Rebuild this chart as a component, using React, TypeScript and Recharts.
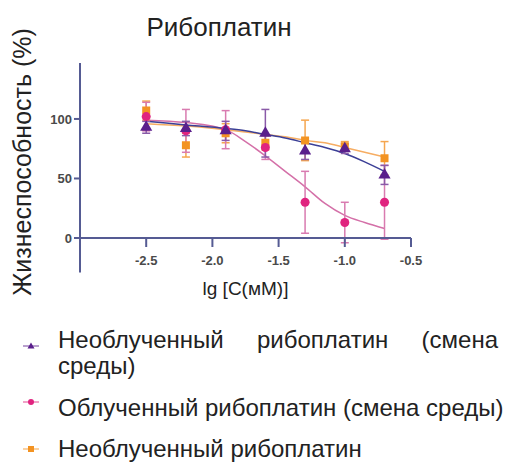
import * as React from "react";
import {
  ComposedChart,
  Line,
  Scatter,
  ErrorBar,
  XAxis,
  YAxis,
  ReferenceLine,
} from "recharts";

// lg concentration, measured points
const doses = [-2.5, -2.2, -1.9, -1.6, -1.3, -1.0, -0.7];
const unirrMedium = [93, 92, 90, 88, 73, 75, 53];
const unirrMediumErr = [5, 6, 8, 20, 7, 4, 8];
const irrMedium = [102, 90, 91, 76, 30, 13, 30];
const irrMediumErr = [12, 18, 16, 10, 26, 17, 31];
const unirr = [107, 78, 88, 80, 82, 77, 67];
const unirrErr = [8, 10, 8, 6, 17, 4, 14];

// fitted curves
const fitX = [-2.5, -2.2, -1.9, -1.75, -1.6, -1.45, -1.3, -1.15, -1.0, -0.85, -0.7];
const unirrMediumFit = [98, 95, 92, 90, 87, 84, 80, 76, 71, 64, 56];
const irrMediumFit = [99, 97, 91, 81, 69, 56, 43, 29, 19, 13, 8];
const unirrFit = [96, 94, 91, 89, 87, 85, 82, 80, 76, 72, 68];

const xTicks = [-2.5, -2.0, -1.5, -1.0, -0.5];
const yTicks = [0, 50, 100];

const PURPLE = "#5a1f8c";
const PINK = "#e0237f";
const ORANGE = "#f39322";
const AXIS = "#555b93";

const points = (vals: number[], errs: number[]) =>
  doses.map((x, i) => ({ x, y: vals[i], err: errs[i] }));
const fit = (vals: number[]) => fitX.map((x, i) => ({ x, y: vals[i] }));

const legendItems = [
  { label: "Необлученный рибоплатин (смена среды)", color: PURPLE, shape: "tri", top: 327, markerY: 344, wrap: true },
  { label: "Облученный рибоплатин (смена среды)", color: PINK, shape: "circle", top: 395, markerY: 400, wrap: false },
  { label: "Необлученный рибоплатин", color: ORANGE, shape: "square", top: 436, markerY: 447, wrap: false },
];

function Marker({ color, shape }: { color: string; shape: string }) {
  return (
    <svg width={18} height={12}>
      <line x1={1} y1={6} x2={17} y2={6} stroke={color} strokeWidth={1.2} opacity={0.7} />
      {shape === "tri" && <polygon points="9,2.5 12.5,8.5 5.5,8.5" fill={color} />}
      {shape === "circle" && <circle cx={9} cy={6} r={3} fill={color} />}
      {shape === "square" && <rect x={6} y={3} width={6} height={6} fill={color} />}
    </svg>
  );
}

export default function App() {
  const tickStyle = { fill: "#4a4a4a", fontSize: 13, fontWeight: 700 };
  return (
    <div
      style={{
        position: "absolute",
        left: 0,
        top: 0,
        width: 518,
        height: 464,
        overflow: "hidden",
        background: "#fff",
        fontFamily: "'Liberation Sans', Arial, sans-serif",
        color: "#222",
      }}
    >
      <div style={{ position: "absolute", top: 12, left: 119, width: 200, textAlign: "center", fontSize: 26, lineHeight: "30px" }}>
        Рибоплатин
      </div>
      <div
        style={{
          position: "absolute",
          left: 22 - 160,
          top: 162 - 15,
          width: 320,
          height: 30,
          lineHeight: "30px",
          textAlign: "center",
          fontSize: 25,
          transform: "rotate(-90deg)",
        }}
      >
        Жизнеспособность (%)
      </div>
      <ComposedChart
        width={518}
        height={464}
        margin={{ top: 63, right: 107, bottom: 196, left: 40 }}
        style={{ position: "absolute", left: 0, top: 0 }}
      >
        <XAxis
          type="number"
          dataKey="x"
          domain={[-3, -0.5]}
          ticks={xTicks}
          tickFormatter={(v: number) => v.toFixed(1)}
          stroke={AXIS}
          strokeWidth={2}
          tickSize={9}
          tickMargin={9}
          tick={tickStyle}
          height={30}
          label={{ value: "lg [C(мМ)]", position: "insideBottom", offset: -27, fill: "#222", fontSize: 19 }}
        />
        <YAxis
          type="number"
          dataKey="y"
          domain={[0, 147]}
          allowDataOverflow
          ticks={yTicks}
          stroke={AXIS}
          strokeWidth={2}
          tickSize={6}
          tick={tickStyle}
          width={40}
        />
        <ReferenceLine
          segment={[{ x: -3, y: 0 }, { x: -3, y: -29 }]}
          stroke={AXIS}
          strokeWidth={2}
          ifOverflow="visible"
        />
        <Line data={fit(unirrFit)} dataKey="y" type="monotone" stroke="#f6ad63" strokeWidth={1.5} dot={false} isAnimationActive={false} />
        <Line data={fit(irrMediumFit)} dataKey="y" type="monotone" stroke="#d470a8" strokeWidth={1.5} dot={false} isAnimationActive={false} />
        <Line data={fit(unirrMediumFit)} dataKey="y" type="monotone" stroke="#3b3f96" strokeWidth={1.5} dot={false} isAnimationActive={false} />
        <Scatter data={points(unirr, unirrErr)} dataKey="y" fill={ORANGE} shape="square" isAnimationActive={false}>
          <ErrorBar dataKey="err" direction="y" width={4} stroke="#f5a64f" strokeWidth={1.5} />
        </Scatter>
        <Scatter data={points(irrMedium, irrMediumErr)} dataKey="y" fill={PINK} shape="circle" isAnimationActive={false}>
          <ErrorBar dataKey="err" direction="y" width={4} stroke="#d97bb0" strokeWidth={1.5} />
        </Scatter>
        <Scatter data={points(unirrMedium, unirrMediumErr)} dataKey="y" fill={PURPLE} shape="triangle" isAnimationActive={false}>
          <ErrorBar dataKey="err" direction="y" width={4} stroke="#8a5aa8" strokeWidth={1.5} />
        </Scatter>
      </ComposedChart>
      {legendItems.map((it, i) => (
        <React.Fragment key={i}>
          <div style={{ position: "absolute", left: 22, top: it.markerY - 6, height: 12 }}>
            <Marker color={it.color} shape={it.shape} />
          </div>
          <div
            style={{
              position: "absolute",
              left: 58,
              top: it.top,
              width: it.wrap ? 440 : 460,
              fontSize: 24,
              lineHeight: "26px",
              textAlign: it.wrap ? "justify" : "left",
              whiteSpace: it.wrap ? "normal" : "nowrap",
            }}
          >
            {it.label}
          </div>
        </React.Fragment>
      ))}
    </div>
  );
}
